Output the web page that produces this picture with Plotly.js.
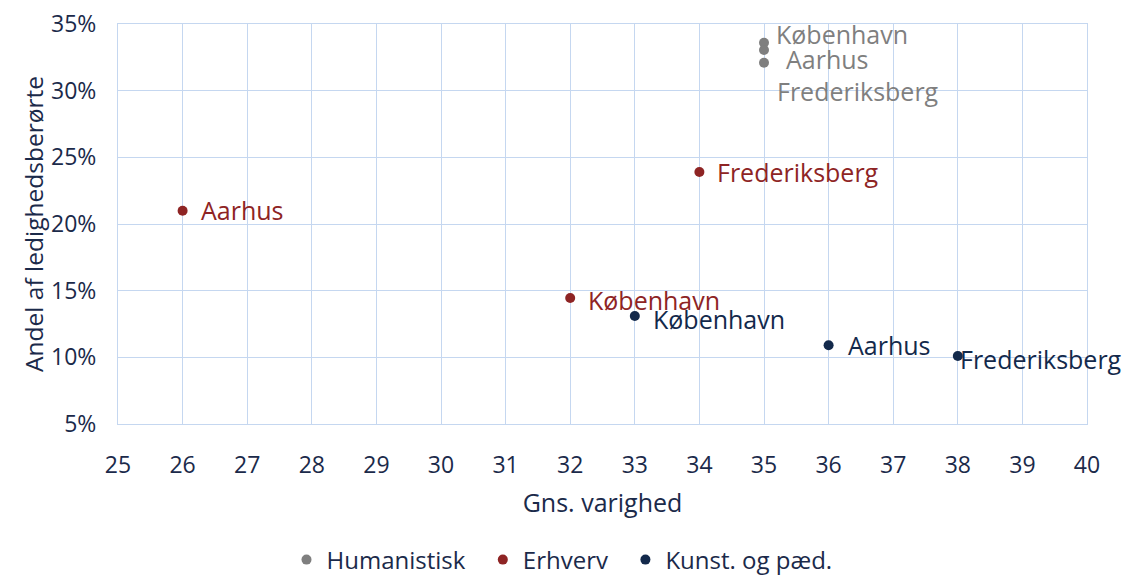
<!DOCTYPE html>
<html>
<head>
<meta charset="utf-8">
<script src="https://cdn.plot.ly/plotly-3.0.1.min.js"></script>
<style>html,body{margin:0;padding:0;background:#fff;}#chart{width:1124px;height:578px;}</style>
</head>
<body>
<div id="chart"></div>
<script>
// Data
const seriesNames = ["Humanistisk", "Erhverv", "Kunst. og pæd."];
const humCities = ["København", "Aarhus", "Frederiksberg"];
const humX = [35, 35, 35];
const humY = [0.336, 0.3305, 0.321];
const erhCities = ["Aarhus", "Frederiksberg", "København"];
const erhX = [26, 34, 32];
const erhY = [0.21, 0.239, 0.1445];
const kunCities = ["København", "Aarhus", "Frederiksberg"];
const kunX = [33, 36, 38];
const kunY = [0.131, 0.109, 0.101];

// label offsets (px) – style only
const humOff = [[10, 9], [20, -9], [11, -28]];
const erhOff = [[16, 1], [16, 0], [16, -2]];
const kunOff = [[16, -3], [17, 0], [0, -3]];

const colors = ["#7f7f7f", "#8e2424", "#13294b"];
const txtColor = "#1b2a4a";
const FONT = "Open Sans, Noto Sans, sans-serif";
const pad = "\u00a0\u00a0";

function trace(name, x, y, c) {
  return {type: "scatter", mode: "markers", name: name, x: x, y: y,
    marker: {color: c, size: 10}, hoverinfo: "skip"};
}
const data = [
  trace(seriesNames[0] + pad, humX, humY, colors[0]),
  trace(seriesNames[1] + pad, erhX, erhY, colors[1]),
  trace(seriesNames[2], kunX, kunY, colors[2])
];

const annotations = [];
function addLabels(cities, xs, ys, offs, c) {
  cities.forEach((t, i) => {
    annotations.push({x: xs[i], y: ys[i], xref: "x", yref: "y", text: t, showarrow: false,
      xanchor: "left", yanchor: "middle", xshift: offs[i][0], yshift: offs[i][1],
      font: {family: FONT, size: 25, color: c}});
  });
}
addLabels(humCities, humX, humY, humOff, colors[0]);
addLabels(erhCities, erhX, erhY, erhOff, colors[1]);
addLabels(kunCities, kunX, kunY, kunOff, colors[2]);

const grid = "#c5d7f0";
const layout = {
  width: 1124, height: 578,
  margin: {l: 118, r: 37, t: 24, b: 154, autoexpand: false},
  paper_bgcolor: "#fff", plot_bgcolor: "#fff",
  showlegend: true,
  legend: {orientation: "h", x: 0.5, xref: "container", xanchor: "center", y: -0.34, yref: "paper", yanchor: "middle",
    font: {family: FONT, size: 24, color: txtColor}, itemwidth: 30, tracegroupgap: 0},
  xaxis: {range: [25, 40], dtick: 1, tick0: 25, showgrid: true, gridcolor: grid, gridwidth: 1,
    zeroline: false, showline: true, linecolor: grid, mirror: true, ticks: "", ticklabelstandoff: 20,
    tickfont: {family: FONT, size: 23, color: txtColor},
    title: {text: "Gns. varighed", font: {family: FONT, size: 25, color: txtColor}, standoff: 15}},
  yaxis: {range: [0.05, 0.35], dtick: 0.05, tick0: 0.05, tickformat: ".0%", showgrid: true,
    gridcolor: grid, gridwidth: 1, zeroline: false, showline: true, linecolor: grid, mirror: true,
    ticks: "", ticklabelstandoff: 16, tickfont: {family: FONT, size: 23, color: txtColor},
    title: {text: "Andel af ledighedsberørte", font: {family: FONT, size: 24.5, color: txtColor}, standoff: 0}},
  annotations: annotations
};
Plotly.newPlot("chart", data, layout, {displayModeBar: false, staticPlot: true});
</script>
</body>
</html>
